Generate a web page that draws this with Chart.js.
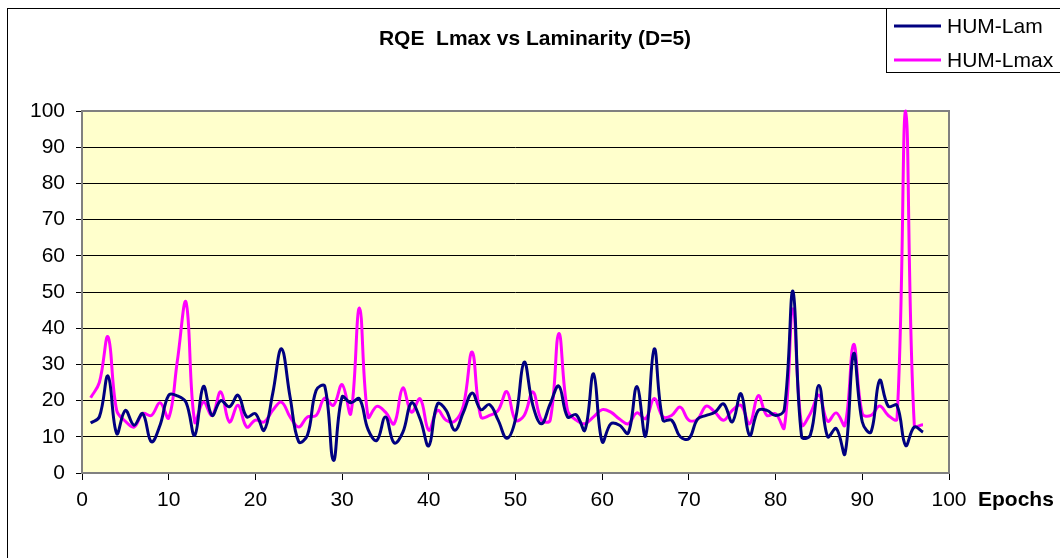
<!DOCTYPE html>
<html>
<head>
<meta charset="utf-8">
<title>RQE Lmax vs Laminarity</title>
<script src="https://cdn.jsdelivr.net/npm/chart.js@4.4.1/dist/chart.umd.min.js"></script>
<style>
  html, body { margin: 0; padding: 0; background: #fff; }
  #wrap { width: 1060px; height: 558px; }
</style>
</head>
<body>
<div id="wrap"><canvas id="graphique" width="1060" height="558"></canvas></div>
<script>
const epochs = [
  1, 2, 3, 4, 5, 6, 7, 8, 9, 10, 11, 12, 13, 14, 15, 16, 17, 18, 19, 20,
  21, 22, 23, 24, 25, 26, 27, 28, 29, 30, 31, 32, 33, 34, 35, 36, 37, 38, 39, 40,
  41, 42, 43, 44, 45, 46, 47, 48, 49, 50, 51, 52, 53, 54, 55, 56, 57, 58, 59, 60,
  61, 62, 63, 64, 65, 66, 67, 68, 69, 70, 71, 72, 73, 74, 75, 76, 77, 78, 79, 80,
  81, 82, 83, 84, 85, 86, 87, 88, 89, 90, 91, 92, 93, 94, 95, 96, 97
];

const humLam = [
  13.8, 15.5, 26.8, 10.9, 17.3, 13.2, 16.4, 8.6, 13.2, 21.5,
  21.3, 19.5, 10.4, 23.9, 15.9, 20.0, 18.3, 21.5, 15.5, 16.4,
  11.8, 22.0, 34.3, 21.0, 8.6, 10.4, 22.8, 24.0, 3.5, 21.0,
  19.4, 20.5, 12.0, 9.0, 15.5, 8.3, 11.2, 19.4, 14.9, 7.5,
  19.1, 17.3, 11.8, 16.8, 22.1, 17.5, 18.9, 14.6, 9.6, 14.9,
  30.6, 18.7, 13.6, 19.1, 24.0, 15.5, 16.1, 11.8, 27.4, 8.6,
  13.6, 13.2, 11.0, 23.9, 10.2, 34.3, 14.6, 14.6, 10.0, 9.5,
  14.9, 15.9, 16.8, 19.1, 14.1, 21.9, 10.4, 17.3, 17.3, 15.9,
  17.5, 50.2, 10.0, 10.4, 24.2, 10.0, 12.3, 5.3, 33.0, 14.1,
  11.3, 25.6, 18.4, 18.7, 7.6, 12.7, 11.3
];

const humLmax = [
  20.8, 25.0, 37.6, 17.3, 14.3, 12.7, 16.4, 15.9, 19.4, 15.2,
  31.0, 47.2, 14.1, 19.6, 15.9, 22.4, 14.1, 18.7, 12.7, 14.6,
  14.1, 17.3, 19.6, 15.5, 12.7, 15.5, 15.9, 20.7, 18.7, 24.4,
  16.4, 45.6, 15.5, 18.4, 16.8, 13.6, 23.5, 16.8, 20.5, 11.8,
  17.3, 14.6, 14.3, 18.7, 33.4, 15.5, 15.9, 17.3, 22.5, 14.6,
  15.9, 22.4, 14.6, 14.6, 38.5, 17.3, 14.6, 13.6, 15.5, 17.5,
  16.8, 14.9, 13.6, 16.6, 15.0, 20.6, 15.5, 15.9, 18.2, 14.6,
  14.9, 18.5, 16.8, 14.6, 17.3, 18.7, 13.6, 21.4, 15.9, 16.4,
  12.5, 45.4, 13.3, 16.4, 21.5, 14.3, 16.6, 13.2, 35.5, 16.4,
  15.9, 18.5, 15.9, 14.9, 100.0, 13.2, 13.3
];

const seriesNames = ['HUM-Lam', 'HUM-Lmax'];
const seriesColors = ['#000080', '#FF00FF'];
const chartTitle = 'RQE  Lmax vs Laminarity (D=5)';
const xAxisTitle = 'Epochs';

const toPoints = values => values.map((v, i) => ({ x: epochs[i], y: v }));

// Excel-style frame: outer border, yellow plot area, title, legend, axis caption
const excelFrame = {
  id: 'excelFrame',
  beforeDraw(chart) {
    const { ctx, chartArea: a } = chart;
    ctx.save();
    ctx.fillStyle = '#fff';
    ctx.fillRect(0, 0, chart.width, chart.height);
    ctx.strokeStyle = '#000';
    ctx.lineWidth = 1;
    ctx.strokeRect(7.5, 8.5, chart.width + 20, chart.height + 20);
    ctx.fillStyle = '#FFFFCC';
    ctx.fillRect(a.left, a.top, a.right - a.left, a.bottom - a.top);
    ctx.restore();
  },
  beforeDatasetsDraw(chart) {
    const { ctx, chartArea: a } = chart;
    ctx.save();
    ctx.strokeStyle = '#808080';
    ctx.lineWidth = 2;
    ctx.strokeRect(a.left, a.top, a.right - a.left, a.bottom - a.top);
    ctx.restore();
  },
  afterDraw(chart) {
    const { ctx } = chart;
    ctx.save();
    ctx.fillStyle = '#000';
    ctx.textBaseline = 'middle';

    ctx.font = 'bold 21px "Liberation Sans", Arial, sans-serif';
    ctx.textAlign = 'center';
    ctx.fillText(chartTitle, 535, 39);

    ctx.textAlign = 'left';
    ctx.textBaseline = 'alphabetic';
    ctx.fillText(xAxisTitle, 978, 506);

    // legend box
    ctx.fillStyle = '#fff';
    ctx.fillRect(886.5, 8.5, 200, 64);
    ctx.strokeStyle = '#000';
    ctx.lineWidth = 1;
    ctx.strokeRect(886.5, 8.5, 200, 64);
    ctx.font = '21px "Liberation Sans", Arial, sans-serif';
    ctx.textBaseline = 'middle';
    chart.data.datasets.forEach((ds, i) => {
      const y = 26 + i * 34;
      ctx.strokeStyle = ds.borderColor;
      ctx.lineWidth = 3;
      ctx.beginPath();
      ctx.moveTo(894, y);
      ctx.lineTo(941, y);
      ctx.stroke();
      ctx.fillStyle = '#000';
      ctx.fillText(ds.label, 947, y + 1);
    });
    ctx.restore();
  }
};

const ctx = document.getElementById('graphique').getContext('2d');

new Chart(ctx, {
  type: 'line',
  data: {
    datasets: [
      {
        label: seriesNames[0],
        data: toPoints(humLam),
        borderColor: seriesColors[0],
        borderWidth: 3,
        pointRadius: 0,
        tension: 0.4,
        fill: false,
        clip: false
      },
      {
        label: seriesNames[1],
        data: toPoints(humLmax),
        borderColor: seriesColors[1],
        borderWidth: 3,
        pointRadius: 0,
        tension: 0.4,
        fill: false,
        clip: false
      }
    ]
  },
  options: {
    responsive: false,
    animation: false,
    devicePixelRatio: 1,
    layout: { padding: { top: 111, right: 111, left: 0, bottom: 0 } },
    elements: { line: { capBezierPoints: false } },
    plugins: {
      legend: { display: false },
      title: { display: false },
      tooltip: { enabled: false }
    },
    scales: {
      x: {
        type: 'linear',
        min: 0,
        max: 100,
        ticks: {
          stepSize: 10,
          color: '#000',
          padding: 8,
          maxRotation: 0,
          font: { family: '"Liberation Sans", Arial, sans-serif', size: 21 }
        },
        grid: {
          drawOnChartArea: false,
          drawTicks: true,
          tickLength: 7,
          tickColor: '#000'
        },
        border: { display: false },
        afterFit(scale) { scale.height = 85; }
      },
      y: {
        min: 0,
        max: 100,
        ticks: {
          stepSize: 10,
          color: '#000',
          padding: 11,
          font: { family: '"Liberation Sans", Arial, sans-serif', size: 21 }
        },
        grid: {
          color: '#000',
          lineWidth: 1,
          tickLength: 6,
          tickColor: '#000'
        },
        border: { display: false },
        afterFit(scale) { scale.width = 82; }
      }
    }
  },
  plugins: [excelFrame]
});
</script>
</body>
</html>
